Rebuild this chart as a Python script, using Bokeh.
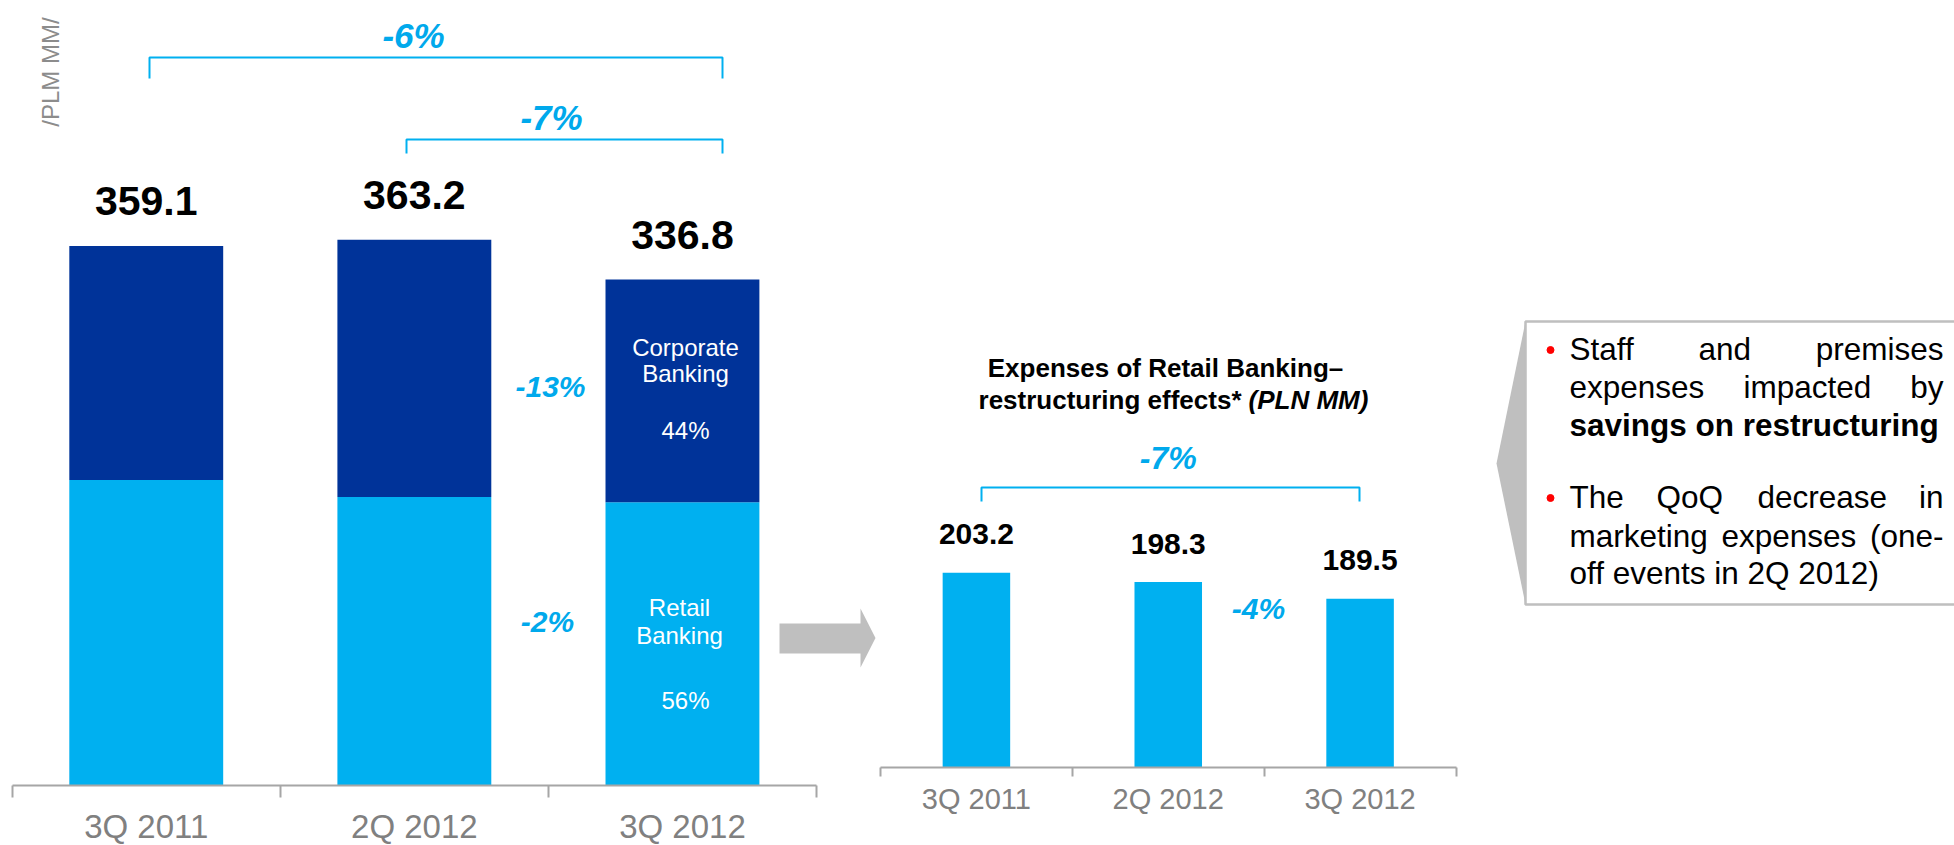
import math
from bokeh.plotting import figure
from bokeh.models import Range1d, FixedTicker, ColumnDataSource, LinearAxis
from bokeh.core.properties import value
from bokeh.embed import file_html
from bokeh.resources import INLINE

# ---------------- DATA ----------------
quarters = ["3Q 2011", "2Q 2012", "3Q 2012"]
retail_banking = [203.3, 192.0, 188.6]
corporate_banking = [155.8, 171.2, 148.2]
total_expenses = [359.1, 363.2, 336.8]
change_total_yoy = "-6%"
change_total_qoq = "-7%"
change_corporate_qoq = "-13%"
change_retail_qoq = "-2%"
corporate_share = "44%"
retail_share = "56%"
unit_label = "/PLM MM/"

restr_quarters = ["3Q 2011", "2Q 2012", "3Q 2012"]
retail_restructuring = [203.2, 198.3, 189.5]
restr_change_yoy = "-7%"
restr_change_qoq = "-4%"
restr_title_1 = "Expenses of Retail Banking\u2013"
restr_title_2a = "restructuring effects*"
restr_title_2b = "(PLN MM)"

bullet_words = ["Staff", "and", "premises",
                "expenses", "impacted", "by",
                "The", "QoQ", "decrease", "in",
                "marketing", "expenses", "(one-",
                "off events in 2Q 2012)"]
bullet_bold = "savings on restructuring"

# ---------------- STYLE / LAYOUT ----------------
FONT = value("Liberation Sans")
DARK = "#003399"
LIGHT = "#00B0F0"
PCT = "#00A9EC"
GRAY_AX = "#A6A6A6"
GRAY_TXT = "#808080"
ARROW = "#BFBFBF"
W, H = 1954, 845
X0, Y0 = 0, 0          # page offset of the canvas (template has no body margin)
K = 0.40               # baseline correction (em)

# left chart mapping (page px -> data)
A_BOTTOM = 785.0
A_TICK0 = 11.7
A_PPX = (816 - 11.7) / 3
A_PPY = 1.5024


def ax(px):
    return -0.5 + (px - A_TICK0) / A_PPX


def ay(py):
    return (A_BOTTOM - py) / A_PPY


# right chart mapping
B_BOTTOM = 767.0
B_TICK0 = 880.0
B_PPX = (1455.5 - 880.0) / 3
B_PPY = 1.898
B_START = 100.6


def bx(px):
    return -0.5 + (px - B_TICK0) / B_PPX


def by(py):
    return B_START + (B_BOTTOM - py) / B_PPY


def base(py, size):
    """page y of a wanted text baseline -> y to give to the glyph"""
    return py - K * size


p = figure(width=W, height=H, x_range=Range1d(X0, X0 + W), y_range=Range1d(Y0 + H, Y0),
           output_backend="svg", toolbar_location=None, title=None,
           x_axis_location=None, y_axis_location=None, min_border=0)
p.outline_line_color = None
p.xgrid.visible = False
p.ygrid.visible = False
p.extra_x_ranges = {"Lx": Range1d(ax(X0), ax(X0 + W)), "Rx": Range1d(bx(X0), bx(X0 + W))}
p.extra_y_ranges = {"Ly": Range1d(ay(Y0 + H), ay(Y0)), "Ry": Range1d(by(Y0 + H), by(Y0))}

L = dict(x_range_name="Lx", y_range_name="Ly")
R = dict(x_range_name="Rx", y_range_name="Ry")


def make_axis(labels, rng, base_value, tick_len, font_size, standoff):
    a = LinearAxis(x_range_name=rng[0], y_range_name=rng[1], fixed_location=base_value)
    a.ticker = FixedTicker(ticks=list(range(len(labels))),
                           minor_ticks=[i - 0.5 for i in range(len(labels) + 1)])
    a.major_label_overrides = {i: q for i, q in enumerate(labels)}
    a.bounds = (-0.5, len(labels) - 0.5)
    a.axis_line_color = GRAY_AX
    a.axis_line_width = 2
    a.major_tick_in = 0
    a.major_tick_out = 0
    a.minor_tick_in = 0
    a.minor_tick_out = tick_len
    a.minor_tick_line_color = GRAY_AX
    a.minor_tick_line_width = 2
    a.major_label_text_font = "Liberation Sans"
    a.major_label_text_font_size = font_size
    a.major_label_text_color = GRAY_TXT
    a.major_label_standoff = standoff
    p.add_layout(a, "below")


# ================= LEFT CHART =================
srcA = ColumnDataSource(dict(x=list(range(len(quarters))), retail=retail_banking,
                             corporate=corporate_banking))
p.vbar_stack(["retail", "corporate"], x="x", width=0.574, color=[LIGHT, DARK],
             line_color=None, source=srcA, **L)

p.text(x=list(range(len(quarters))),
       y=[t + (28.5 + K * 41) / A_PPY for t in total_expenses],
       text=[f"{t:.1f}" for t in total_expenses], text_font=FONT, text_font_size="41px",
       text_font_style="bold", text_color="black", text_align="center",
       text_baseline="alphabetic", **L)

p.line(x=[ax(149), ax(149), ax(722), ax(722)], y=[ay(78), ay(57), ay(57), ay(78)],
       line_color=LIGHT, line_width=2, **L)
p.line(x=[ax(406), ax(406), ax(722), ax(722)], y=[ay(153), ay(139), ay(139), ay(153)],
       line_color=LIGHT, line_width=2, **L)
p.text(x=[ax(413), ax(551)], y=[ay(base(48.5, 35)), ay(base(130.7, 35))],
       text=[change_total_yoy, change_total_qoq], text_font=FONT, text_font_size="35px",
       text_font_style="bold italic", text_color=PCT, text_align="center",
       text_baseline="alphabetic", **L)
p.text(x=[ax(550), ax(547)], y=[ay(base(397.5, 30)), ay(base(633, 30))],
       text=[change_corporate_qoq, change_retail_qoq], text_font=FONT,
       text_font_size="30px", text_font_style="bold italic", text_color=PCT,
       text_align="center", text_baseline="alphabetic", **L)

p.text(x=[ax(685), ax(685), ax(685), ax(679), ax(679), ax(685)],
       y=[ay(base(v, 24)) for v in [356.4, 382.7, 439.3, 617, 644.7, 709.9]],
       text=["Corporate", "Banking", corporate_share, "Retail", "Banking", retail_share],
       text_font=FONT, text_font_size="24px", text_color="white", text_align="center",
       text_baseline="alphabetic", **L)

p.text(x=[ax(50)], y=[ay(71.5)], text=[unit_label], angle=math.pi / 2, text_font=FONT,
       text_font_size="24px", text_color="#8C8C8C", text_align="center",
       text_baseline="middle", **L)

make_axis(quarters, ("Lx", "Ly"), 0, 12, "33px", 10)

# grey arrow (page coordinates)
p.patch(x=[779, 860, 860, 875, 860, 860, 779], y=[623, 623, 608, 637.5, 667, 653, 653],
        fill_color=ARROW, line_color=None)

# ================= RIGHT CHART =================
srcB = ColumnDataSource(dict(x=list(range(len(restr_quarters))), v=retail_restructuring))
p.vbar(x="x", top="v", bottom=B_START, width=0.352, color=LIGHT, line_color=None,
       source=srcB, **R)
p.text(x=list(range(len(restr_quarters))),
       y=[v + (26.5 + K * 30) / B_PPY for v in retail_restructuring],
       text=[f"{v:.1f}" for v in retail_restructuring], text_font=FONT,
       text_font_size="30px", text_font_style="bold", text_color="black",
       text_align="center", text_baseline="alphabetic", **R)

p.line(x=[bx(981), bx(981), bx(1359), bx(1359)], y=[by(501), by(487), by(487), by(501)],
       line_color=LIGHT, line_width=2, **R)
p.text(x=[bx(1167.7)], y=[by(base(470, 32))], text=[restr_change_yoy], text_font=FONT,
       text_font_size="32px", text_font_style="bold italic", text_color=PCT,
       text_align="center", text_baseline="alphabetic", **R)
p.text(x=[bx(1258)], y=[by(base(620, 30))], text=[restr_change_qoq], text_font=FONT,
       text_font_size="30px", text_font_style="bold italic", text_color=PCT,
       text_align="center", text_baseline="alphabetic", **R)

p.text(x=[bx(1165)], y=[by(base(377.7, 26))], text=[restr_title_1], text_font=FONT,
       text_font_size="26px", text_font_style="bold", text_color="black",
       text_align="center", text_baseline="alphabetic", **R)
p.text(x=[bx(1241)], y=[by(base(410, 26))], text=[restr_title_2a], text_font=FONT,
       text_font_size="26px", text_font_style="bold", text_color="black",
       text_align="right", text_baseline="alphabetic", **R)
p.text(x=[bx(1248)], y=[by(base(410, 26))], text=[restr_title_2b], text_font=FONT,
       text_font_size="26px", text_font_style="bold italic", text_color="black",
       text_align="left", text_baseline="alphabetic", **R)

make_axis(restr_quarters, ("Rx", "Ry"), B_START, 9, "29px", 6)

# ================= TEXT BOX (page coordinates) =================
p.patch(x=[1525, 1496, 1525], y=[321, 463, 604], fill_color=ARROW, line_color=None)
p.line(x=[1960, 1525, 1525, 1960], y=[321, 321, 604, 604], line_color=ARROW, line_width=2.5)
p.scatter(x=[1550, 1550], y=[349.5, 497.5], size=7, color="#FF0000")

wx = [1569, 1698, 1943,
      1569, 1743, 1943,
      1569, 1656, 1757, 1943,
      1569, 1721, 1943,
      1569]
wy = [361, 361, 361,
      399.5, 399.5, 399.5,
      509, 509, 509, 509,
      548.5, 548.5, 548.5,
      585]
wal = ["left", "left", "right",
       "left", "left", "right",
       "left", "left", "left", "right",
       "left", "left", "right",
       "left"]
p.text(x=wx, y=[base(v, 31.5) for v in wy], text=bullet_words, text_align=wal,
       text_font=FONT, text_font_size="31.5px", text_color="black",
       text_baseline="alphabetic")
p.text(x=[1569], y=[base(437.5, 31.5)], text=[bullet_bold], text_font=FONT,
       text_font_size="31.5px", text_font_style="bold", text_color="black",
       text_align="left", text_baseline="alphabetic")

open("out.html", "w").write(file_html(p, INLINE))
